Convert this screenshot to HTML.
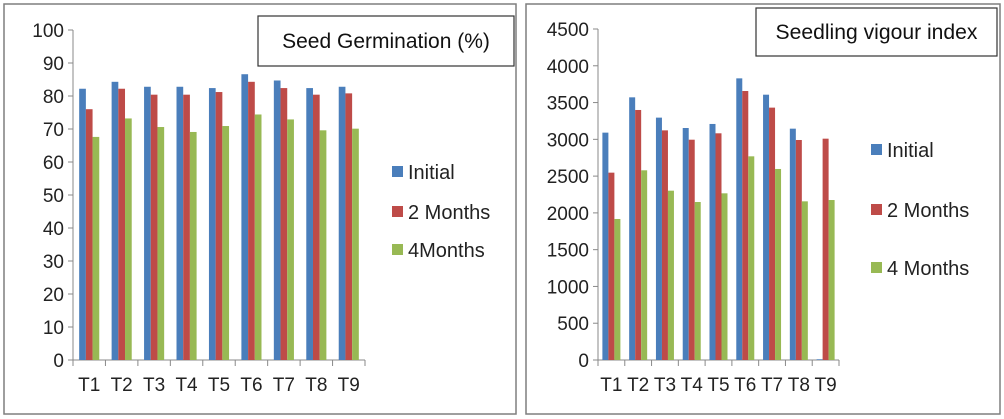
<!DOCTYPE html>
<html><head><meta charset="utf-8"><style>
html,body{margin:0;padding:0;background:#fff;width:1004px;height:419px;overflow:hidden}
svg{display:block;font-family:"Liberation Sans",Calibri,sans-serif}
</style></head><body>
<svg id="svg" width="1004" height="419" viewBox="0 0 1004 419"></svg>
<script>
const categories = ["T1","T2","T3","T4","T5","T6","T7","T8","T9"];
const seriesNames1 = ["Initial","2 Months","4Months"];
const germInitial = [82.2,84.3,82.8,82.8,82.4,86.6,84.7,82.4,82.8];
const germ2M = [76,82.2,80.4,80.4,81.2,84.3,82.4,80.4,80.8];
const germ4M = [67.6,73.2,70.6,69.1,70.9,74.4,72.9,69.6,70.1];
const ticks1 = [0,10,20,30,40,50,60,70,80,90,100];
const seriesNames2 = ["Initial","2 Months","4 Months"];
const vigInitial = [3091,3571,3295,3154,3209,3829,3607,3145,10];
const vig2M = [2547,3399,3122,2995,3082,3657,3431,2991,3009];
const vig4M = [1917,2579,2302,2148,2266,2769,2597,2157,2175];
const ticks2 = [0,500,1000,1500,2000,2500,3000,3500,4000,4500];

const colors = ["#4a7ebb","#be4b48","#98b954"];
const NS = "http://www.w3.org/2000/svg";
const svg = document.getElementById('svg');
function mk(tag, attrs, parent){const e=document.createElementNS(NS,tag);for(const k in attrs)e.setAttribute(k,attrs[k]);(parent||svg).appendChild(e);return e;}

function chart(o){
  const g = mk('g',{});
  
  
  const frame = mk('rect',{x:o.fx,y:4,width:o.fw,height:410,fill:'#fff',stroke:'#7f7f7f','stroke-width':1.5},g);
  
  
  const yS = v => o.y0 - (v/o.max)*(o.y0-o.yTop);
  const cw = (o.xEnd-o.x0)/categories.length;
  const xS = i => o.x0 + cw*i;
  o.ticks.forEach(t=>{
    const y=yS(t);
    mk('line',{x1:o.x0-5,x2:o.x0,y1:y,y2:y,stroke:'#898989'},g);
    const tx = mk('text',{x:o.x0-9,y:y+7,'text-anchor':'end','font-size':19,fill:'#222'},g);
    tx.textContent=t;
    
    
  });
  mk('line',{x1:o.x0,x2:o.x0,y1:o.yTop,y2:o.y0,stroke:'#898989'},g);
  mk('line',{x1:o.x0,x2:o.xEnd,y1:o.y0,y2:o.y0,stroke:'#898989'},g);
  for(let i=0;i<=categories.length;i++){mk('line',{x1:xS(i),x2:xS(i),y1:o.y0,y2:o.y0+6,stroke:'#898989'},g);}
  categories.forEach((c,i)=>{
    const tx = mk('text',{x:xS(i)+cw/2,y:o.y0+31,'text-anchor':'middle','font-size':19,fill:'#222'},g);
    tx.textContent=c;
    
    
  });
  const bw = o.bw;
  o.series.forEach((s,si)=>{
    s.forEach((v,i)=>{
      const x = xS(i)+cw/2-1.5*bw+si*bw;
      const r = mk('rect',{x:x,y:yS(v),width:bw,height:o.y0-yS(v),fill:colors[si]},g);
      
      
    });
  });
  const tb = mk('rect',{x:o.tx,y:o.ty,width:o.tw,height:o.th,fill:'#fff',stroke:'#333','stroke-width':1.2},g);
  
  
  const tt = mk('text',{x:o.tx+o.tw/2,y:o.ty+o.th/2+7,'text-anchor':'middle','font-size':o.tfs,fill:'#111'},g);
  tt.textContent=o.title;
  if(o.titleLen){ tt.setAttribute('textLength', o.titleLen); tt.setAttribute('lengthAdjust','spacingAndGlyphs'); }
  
  
  o.names.forEach((n,si)=>{
    const y=o.ly[si];
    const sq = mk('rect',{x:o.lx,y:y-6,width:11,height:11,fill:colors[si]},g);
    
    
    const lt = mk('text',{x:o.lx+16,y:y+7,'font-size':20,fill:'#222'},g);
    lt.textContent=n;
    
    
  });
}
chart({name:'seed-germination-chart',fx:4,fw:512,x0:73,xEnd:365,yTop:30,y0:360,max:100,ticks:ticks1,bw:6.7,
  series:[germInitial,germ2M,germ4M],names:seriesNames1,tx:258,ty:16,tw:256,th:50,title:'Seed Germination (%)',tfs:21,
  lx:392,ly:[172,212,250]});
chart({name:'seedling-vigour-chart',fx:526,fw:474,x0:598,xEnd:839,yTop:29,y0:360,max:4500,ticks:ticks2,bw:6,
  series:[vigInitial,vig2M,vig4M],names:seriesNames2,tx:756,ty:8,tw:241,th:48,title:'Seedling vigour index',titleLen:202,tfs:21,
  lx:871,ly:[150,210,268]});
</script>
</body></html>
